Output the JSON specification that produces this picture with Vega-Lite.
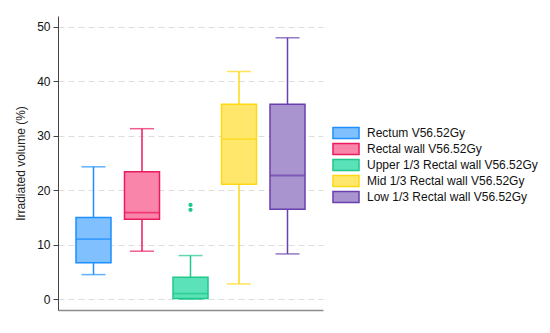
{
  "$schema": "https://vega.github.io/schema/vega-lite/v6.json",
  "autosize": {"type": "none"},
  "width": 265,
  "height": 294,
  "padding": {"left": 58, "top": 16, "right": 227, "bottom": 23},
  "background": "white",
  "config": {
    "font": "Liberation Sans",
    "view": {"stroke": null}
  },
  "datasets": {
    "boxes": [
      {"group": "Rectum V56.52Gy", "lower": 4.5, "q1": 6.7, "median": 11.0, "q3": 15.0, "upper": 24.3},
      {"group": "Rectal wall V56.52Gy", "lower": 8.8, "q1": 14.65, "median": 15.9, "q3": 23.4, "upper": 31.3},
      {"group": "Upper 1/3 Rectal wall V56.52Gy", "lower": 0.0, "q1": 0.1, "median": 1.0, "q3": 4.0, "upper": 8.0},
      {"group": "Mid 1/3 Rectal wall V56.52Gy", "lower": 2.8, "q1": 21.1, "median": 29.4, "q3": 35.8, "upper": 41.8},
      {"group": "Low 1/3 Rectal wall V56.52Gy", "lower": 8.3, "q1": 16.5, "median": 22.7, "q3": 35.8, "upper": 48.0}
    ],
    "outliers": [
      {"group": "Upper 1/3 Rectal wall V56.52Gy", "value": 17.3},
      {"group": "Upper 1/3 Rectal wall V56.52Gy", "value": 16.4}
    ]
  },
  "data": {"name": "boxes"},
  "encoding": {
    "x": {
      "field": "group",
      "type": "nominal",
      "sort": ["Rectum V56.52Gy", "Rectal wall V56.52Gy", "Upper 1/3 Rectal wall V56.52Gy", "Mid 1/3 Rectal wall V56.52Gy", "Low 1/3 Rectal wall V56.52Gy"],
      "scale": {"type": "band", "paddingInner": 0, "paddingOuter": 0.232},
      "axis": {"title": null, "labels": false, "ticks": false, "grid": false, "domainColor": "#8c8c8c", "domainWidth": 1.5}
    }
  },
  "layer": [
    {
      "mark": {"type": "bar", "width": 35, "strokeWidth": 1.5},
      "encoding": {
        "y": {
          "field": "q1", "type": "quantitative",
          "scale": {"domain": [-2, 52], "nice": false, "zero": false},
          "axis": {
            "title": "Irradiated volume (%)",
            "titleFontSize": 12, "titleFontWeight": "normal", "titleColor": "#222", "titlePadding": 9,
            "values": [0, 10, 20, 30, 40, 50],
            "labelFontSize": 12, "labelColor": "#111", "labelPadding": 3,
            "tickColor": "#444", "tickSize": 5,
            "domainColor": "#444", "domainWidth": 1,
            "grid": true, "gridColor": "#dddddd", "gridDash": [6, 4], "gridWidth": 1
          }
        },
        "y2": {"field": "q3"},
        "color": {
          "field": "group", "type": "nominal",
          "scale": {
            "domain": ["Rectum V56.52Gy", "Rectal wall V56.52Gy", "Upper 1/3 Rectal wall V56.52Gy", "Mid 1/3 Rectal wall V56.52Gy", "Low 1/3 Rectal wall V56.52Gy"],
            "range": ["#80c0ff", "#f985aa", "#5ce2b8", "#ffe76c", "#a994cf"]
          },
          "legend": {
            "title": null,
            "orient": "none",
            "legendX": 281,
            "legendY": 110,
            "symbolType": "M-2.17,-0.92H2.17V0.92H-2.17Z",
            "symbolSize": 144,
            "symbolStrokeWidth": 1.5,
            "symbolOpacity": 1,
            "labelFontSize": 12,
            "labelColor": "#111",
            "labelOffset": 14,
            "labelLimit": 300,
            "rowPadding": -2,
            "encode": {
              "symbols": {"update": {
                "stroke": {"scale": "stroke", "field": "value"},
                "opacity": {"value": 1}
              }}
            }
          }
        },
        "stroke": {
          "field": "group", "type": "nominal",
          "scale": {
            "domain": ["Rectum V56.52Gy", "Rectal wall V56.52Gy", "Upper 1/3 Rectal wall V56.52Gy", "Mid 1/3 Rectal wall V56.52Gy", "Low 1/3 Rectal wall V56.52Gy"],
            "range": ["#1e8fff", "#ec1a5e", "#1fc78a", "#ffd814", "#6a3fae"]
          },
          "legend": null
        }
      }
    },
    {
      "mark": {"type": "rule", "strokeWidth": 1.5},
      "encoding": {
        "y": {"field": "q3", "type": "quantitative"},
        "y2": {"field": "upper"},
        "stroke": {"field": "group", "type": "nominal", "legend": null}
      }
    },
    {
      "mark": {"type": "rule", "strokeWidth": 1.5},
      "encoding": {
        "y": {"field": "lower", "type": "quantitative"},
        "y2": {"field": "q1"},
        "stroke": {"field": "group", "type": "nominal", "legend": null}
      }
    },
    {
      "mark": {"type": "tick", "size": 35, "thickness": 1.8},
      "encoding": {
        "y": {"field": "median", "type": "quantitative"},
        "fill": {
          "field": "group", "type": "nominal",
          "scale": {
            "domain": ["Rectum V56.52Gy", "Rectal wall V56.52Gy", "Upper 1/3 Rectal wall V56.52Gy", "Mid 1/3 Rectal wall V56.52Gy", "Low 1/3 Rectal wall V56.52Gy"],
            "range": ["#1e8fff", "#ec1a5e", "#1fc78a", "#ffd814", "#6a3fae"]
          },
          "legend": null
        }
      }
    },
    {
      "mark": {"type": "tick", "size": 24, "thickness": 1.5},
      "encoding": {
        "y": {"field": "upper", "type": "quantitative"},
        "fill": {"field": "group", "type": "nominal", "legend": null}
      }
    },
    {
      "mark": {"type": "tick", "size": 24, "thickness": 1.5},
      "encoding": {
        "y": {"field": "lower", "type": "quantitative"},
        "fill": {"field": "group", "type": "nominal", "legend": null}
      }
    },
    {
      "data": {"name": "outliers"},
      "mark": {"type": "circle", "size": 18, "opacity": 1},
      "encoding": {
        "y": {"field": "value", "type": "quantitative"},
        "fill": {"field": "group", "type": "nominal", "legend": null}
      }
    }
  ]
}
